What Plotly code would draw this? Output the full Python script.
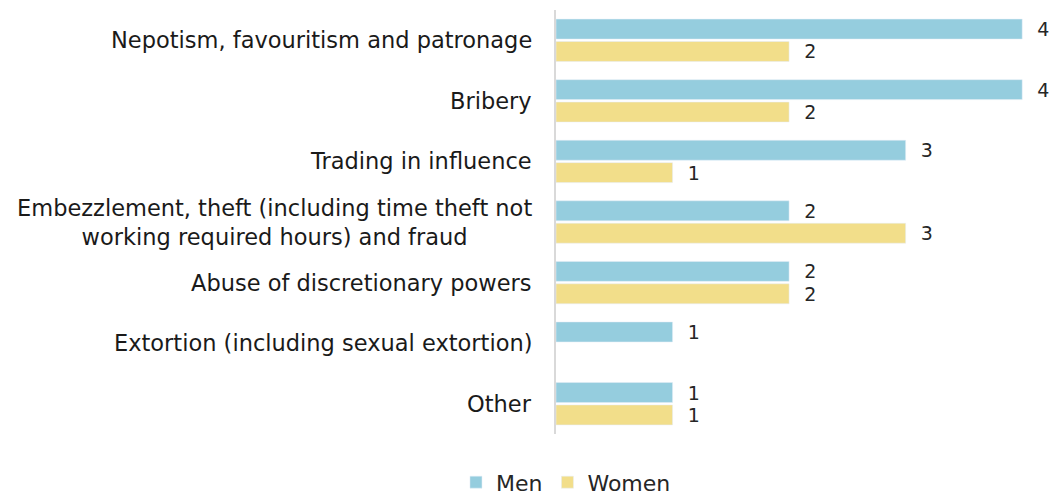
import plotly.graph_objects as go

categories = [
    "Nepotism, favouritism and patronage",
    "Bribery",
    "Trading in influence",
    "Embezzlement, theft (including time theft not<br>working required hours) and fraud",
    "Abuse of discretionary powers",
    "Extortion (including sexual extortion)",
    "Other",
]
men = [4, 4, 3, 2, 2, 1, 1]
women = [2, 2, 1, 3, 2, None, 1]

MEN_COLOR = "#95CDDE"
WOMEN_COLOR = "#F2DE8A"
FONT = "DejaVu Sans"
TXT = "#262626"

def labels(vals):
    return ["  " + str(v) if v else "" for v in vals]

fig = go.Figure()
fig.add_trace(go.Bar(
    name="Men", y=categories, x=men, orientation="h",
    marker=dict(color=MEN_COLOR),
    text=labels(men), textposition="outside", cliponaxis=False,
    constraintext="none",
    textfont=dict(family=FONT, size=19, color=TXT),
))
fig.add_trace(go.Bar(
    name="Women", y=categories, x=women, orientation="h",
    marker=dict(color=WOMEN_COLOR),
    text=labels(women), textposition="outside", cliponaxis=False,
    constraintext="none",
    textfont=dict(family=FONT, size=19, color=TXT),
))

for c in categories:
    fig.add_annotation(
        x=0, y=c, xref="x", yref="y", text=c, showarrow=False,
        xanchor="right", yanchor="middle", align="center", xshift=-22,
        font=dict(family=FONT, size=22.5, color="#1a1a1a"),
    )

fig.update_layout(
    width=1052, height=495,
    margin=dict(l=556, r=10, t=10, b=61),
    paper_bgcolor="white", plot_bgcolor="white",
    barmode="group", bargap=0.26, bargroupgap=0.11,
    font=dict(family=FONT, color=TXT),
    showlegend=True,
    legend=dict(
        orientation="h", xref="container", yref="container",
        x=0.538, xanchor="center", y=0.068, yanchor="top",
        font=dict(family=FONT, size=22, color=TXT),
        itemwidth=30, traceorder="normal",
    ),
    xaxis=dict(range=[0, 4.17], showgrid=False, showticklabels=False,
               zeroline=False, showline=False),
    yaxis=dict(autorange="reversed", showticklabels=False, ticks="",
               showline=True, linecolor="#D9D9D9", linewidth=2, showgrid=False),
)

fig.write_html(
    "out.html",
    config={"displayModeBar": False},
    post_script="document.documentElement.style.margin='0';"
                "document.body.style.margin='0';"
                "document.body.style.overflow='hidden';",
)
